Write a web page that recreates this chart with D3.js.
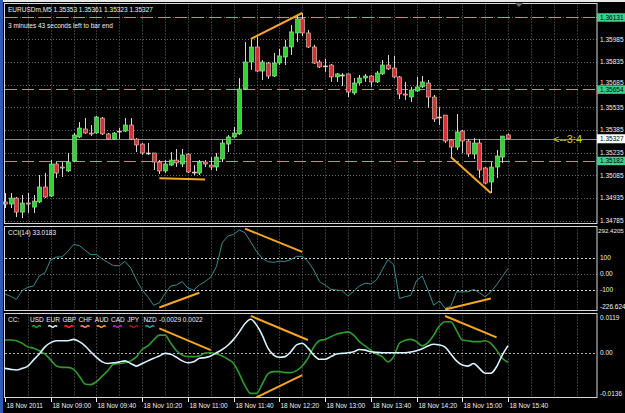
<!DOCTYPE html>
<html>
<head>
<meta charset="utf-8">
<script src="https://cdn.jsdelivr.net/npm/d3@7"></script>
<style>
  body { margin: 0; background: #000; }
  svg { display: block; font-family: "Liberation Sans", Arial, sans-serif; }
</style>
</head>
<body>
<svg id="chart"></svg>
<script>
// EURUSDm M5, 18 Nov 2011, one value per bar (bar 0 = 08:20, bar 88 = 15:40)
const open = [1.34909,1.34895,1.34935,1.34842,1.34902,1.34875,1.34909,1.35008,1.34948,1.35160,
  1.35140,1.35114,1.35180,1.35339,1.35392,1.35365,1.35365,1.35464,1.35359,1.35325,
  1.35378,1.35378,1.35418,1.35325,1.35292,1.35233,1.35233,1.35173,1.35114,1.35153,
  1.35186,1.35160,1.35226,1.35107,1.35100,1.35173,1.35153,1.35140,1.35193,1.35292,
  1.35339,1.35359,1.35656,1.35835,1.35934,1.35775,1.35828,1.35742,1.35828,1.35868,
  1.35934,1.36027,1.36120,1.36027,1.35934,1.35835,1.35809,1.35815,1.35736,1.35749,
  1.35756,1.35630,1.35696,1.35729,1.35742,1.35703,1.35756,1.35815,1.35795,1.35736,
  1.35623,1.35603,1.35643,1.35670,1.35696,1.35603,1.35471,1.35484,1.35319,1.35272,
  1.35378,1.35312,1.35226,1.35299,1.35134,1.35041,1.35140,1.35206,1.35353];
const high = [1.34968,1.34968,1.34942,1.34955,1.34968,1.34955,1.35087,1.35100,1.35186,1.35173,
  1.35173,1.35233,1.35365,1.35438,1.35464,1.35418,1.35478,1.35471,1.35365,1.35372,
  1.35398,1.35464,1.35464,1.35332,1.35299,1.35299,1.35233,1.35186,1.35186,1.35239,
  1.35259,1.35259,1.35233,1.35153,1.35186,1.35186,1.35206,1.35233,1.35319,1.35352,
  1.35405,1.35729,1.35967,1.35987,1.36000,1.35848,1.35835,1.35895,1.35921,1.35981,
  1.36080,1.36146,1.36159,1.36047,1.35948,1.35848,1.35855,1.35822,1.35762,1.35762,
  1.35756,1.35729,1.35749,1.35756,1.35749,1.35775,1.35848,1.35881,1.35875,1.35742,
  1.35703,1.35670,1.35736,1.35742,1.35716,1.35617,1.35537,1.35484,1.35325,1.35491,
  1.35385,1.35325,1.35332,1.35325,1.35140,1.35173,1.35253,1.35345,1.35361];
const low = [1.34869,1.34869,1.34809,1.34803,1.34836,1.34836,1.34902,1.34935,1.34942,1.35067,
  1.35074,1.35107,1.35173,1.35332,1.35359,1.35345,1.35359,1.35352,1.35319,1.35319,
  1.35325,1.35372,1.35319,1.35239,1.35220,1.35220,1.35120,1.35094,1.35100,1.35147,
  1.35140,1.35140,1.35100,1.35087,1.35087,1.35140,1.35120,1.35114,1.35173,1.35239,
  1.35332,1.35352,1.35650,1.35782,1.35769,1.35716,1.35723,1.35736,1.35815,1.35815,
  1.35881,1.35967,1.36007,1.35928,1.35822,1.35795,1.35769,1.35703,1.35703,1.35676,
  1.35603,1.35617,1.35683,1.35703,1.35670,1.35696,1.35749,1.35782,1.35729,1.35590,
  1.35584,1.35570,1.35636,1.35663,1.35531,1.35438,1.35418,1.35299,1.35206,1.35253,
  1.35233,1.35206,1.35193,1.35067,1.35027,1.34968,1.35067,1.35167,1.35323];
const close = [1.34895,1.34935,1.34842,1.34902,1.34895,1.34915,1.35008,1.34942,1.35160,1.35100,
  1.35134,1.35173,1.35352,1.35398,1.35365,1.35359,1.35471,1.35359,1.35325,1.35365,
  1.35378,1.35418,1.35325,1.35286,1.35233,1.35233,1.35173,1.35114,1.35160,1.35186,
  1.35167,1.35220,1.35107,1.35107,1.35173,1.35160,1.35140,1.35206,1.35299,1.35339,
  1.35365,1.35656,1.35835,1.35934,1.35775,1.35835,1.35742,1.35828,1.35875,1.35934,
  1.36034,1.36120,1.36027,1.35934,1.35828,1.35802,1.35809,1.35736,1.35756,1.35749,
  1.35636,1.35696,1.35729,1.35742,1.35703,1.35762,1.35815,1.35789,1.35736,1.35623,
  1.35617,1.35650,1.35670,1.35703,1.35603,1.35458,1.35471,1.35312,1.35272,1.35372,
  1.35312,1.35226,1.35299,1.35120,1.35034,1.35140,1.35213,1.35345,1.35327];

const cci = [-125,-139,-158,-104,-83,-75,-13,6,88,104,
  104,139,181,175,146,119,119,92,71,50,
  50,77,36,-38,-100,-142,-194,-179,-121,-75,
  -69,-48,-89,-100,-69,-48,-21,46,192,233,
  244,271,254,196,139,96,75,71,77,77,
  88,108,108,77,25,-48,-69,-96,-100,-104,
  -138,-108,-75,-58,-63,-38,25,88,56,-152,
  -142,-133,-42,-13,-100,-194,-167,-214,-200,-111,
  -111,-111,-96,-117,-142,-111,-69,-17,33.0183];

const usd = [0.0039,0.0039,0.0037,0.0029,0.0018,0.0014,0.0006,-0.0004,-0.0022,-0.0041,
  -0.0045,-0.0045,-0.0051,-0.0072,-0.0096,-0.0098,-0.0089,-0.0072,-0.0055,-0.0035,
  -0.0033,-0.0031,-0.0025,-0.0012,0.0010,0.0021,0.0039,0.0054,0.0054,0.0029,
  0.0006,-0.0007,-0.0012,-0.0012,-0.0010,-0.0001,0.0000,-0.0004,-0.0010,-0.0020,
  -0.0033,-0.0065,-0.0102,-0.0125,-0.0125,-0.0096,-0.0065,-0.0058,-0.0058,-0.0061,
  -0.0061,-0.0055,-0.0041,-0.0017,0.0017,0.0037,0.0041,0.0049,0.0057,0.0061,
  0.0064,0.0054,0.0034,0.0021,0.0008,-0.0004,-0.0012,-0.0028,-0.0012,0.0029,
  0.0038,0.0041,0.0034,0.0021,0.0031,0.0054,0.0082,0.0095,0.0095,0.0068,
  0.0039,0.0037,0.0034,0.0034,0.0037,0.0029,0.0008,-0.0017,-0.0029];
const eur = [-0.0048,-0.0051,-0.0053,-0.0048,-0.0041,-0.0022,-0.0004,0.0018,0.0031,0.0037,
  0.0037,0.0037,0.0041,0.0034,0.0021,0.0003,-0.0014,-0.0028,-0.0033,-0.0031,
  -0.0028,-0.0025,-0.0033,-0.0041,-0.0033,-0.0025,-0.0017,-0.0010,-0.0002,-0.0005,
  -0.0014,-0.0025,-0.0031,-0.0028,-0.0017,-0.0015,-0.0010,0.0000,0.0010,0.0023,
  0.0041,0.0064,0.0090,0.0103,0.0085,0.0054,0.0014,-0.0007,-0.0014,-0.0012,
  0.0003,0.0024,0.0029,0.0014,-0.0007,-0.0020,-0.0020,-0.0012,-0.0004,-0.0002,
  0.0000,0.0003,0.0010,0.0008,0.0003,0.0001,0.0000,0.0000,0.0000,0.0000,
  0.0000,0.0002,0.0006,0.0012,0.0021,0.0026,0.0024,0.0017,-0.0004,-0.0025,
  -0.0038,-0.0041,-0.0033,-0.0048,-0.0063,-0.0063,-0.0043,-0.0007,0.0022];

// axis labels
const priceTicks = [1.36135,1.35985,1.35835,1.35685,1.35535,1.35385,1.35235,1.35085,1.34935,1.34785];
const priceLabels = ["","1.35985","1.35835","1.35685","1.35535","1.35385","1.35235","1.35085","1.34935","1.34785"];
const levelPrices = [1.36131, 1.35654, 1.35182];
const timeBars = [0,8,16,24,32,40,48,56,64,72,80,88];
const timeLabels = ["18 Nov 2011","18 Nov 09:00","18 Nov 09:40","18 Nov 10:20","18 Nov 11:00","18 Nov 11:40",
  "18 Nov 12:20","18 Nov 13:00","18 Nov 13:40","18 Nov 14:20","18 Nov 15:00","18 Nov 15:40"];
const cciVals = [292.4205, 100, 0, -100, -226.624];
const cciLabels = ["292.4205","100","0.00","-100","-226.624"];
const ccVals = [0.0119, 0, -0.0136];
const ccLabels = ["0.0119","0.00","-0.0136"];
const currencies = ["USD","EUR","GBP","CHF","AUD","CAD","JPY","NZD"];
const currencyColors = ["#2f9a2f","#d8f4ff","#ff3030","#ff8c69","#ffa030","#b030b0","#a01818","#30a0a0"];

// hand drawn trend lines: [bar, value] pairs
const priceTrends = [[[43,1.35987],[52,1.36159]], [[27,1.35065],[35,1.35058]], [[78,1.35206],[85,1.34968]]];
const cciTrends = [[[27,-208],[34,-117]], [[42,279],[52,136]], [[77,-221],[85,-152]]];
const ccTrends = [[[27,0.0075],[36,0.0008]], [[43,0.0113],[53,0.0039]], [[44,-0.0137],[52,-0.0069]], [[77,0.0113],[86,0.0047]]];

const width = 625, height = 413;
const svg = d3.select("#chart").attr("width", width).attr("height", height);

svg.append("rect").attr("width", width).attr("height", height).attr("fill", "#000");

const left = 5, right = 597;
const x = d3.scaleLinear().domain([0, 88]).range([5, 508]);
const yPrice = d3.scaleLinear().domain([1.34785, 1.35985]).range([220.7, 39.3]);
const yCci = d3.scaleLinear().domain([-226.624, 292.4205]).range([310.5, 226.5]);
const yCc = d3.scaleLinear().domain([-0.0136, 0.0119]).range([397, 314]);

const panels = [
  { top: 3.5, bottom: 223.5 },
  { top: 226.5, bottom: 310.5 },
  { top: 313.5, bottom: 397.5 }
];

const gridColor = "#6a6a6a";

// vertical grid in every panel
const gridBars = d3.range(4, 104, 4);
panels.forEach(p => {
  svg.append("g").selectAll("line").data(gridBars).join("line")
    .attr("x1", d => Math.round(x(d)) + 0.5).attr("x2", d => Math.round(x(d)) + 0.5)
    .attr("y1", p.top).attr("y2", p.bottom)
    .attr("stroke", gridColor).attr("stroke-dasharray", "1,2");
});

// horizontal price grid
svg.append("g").selectAll("line").data(priceTicks).join("line")
  .attr("x1", left).attr("x2", right)
  .attr("y1", d => Math.round(yPrice(d)) + 0.5).attr("y2", d => Math.round(yPrice(d)) + 0.5)
  .attr("stroke", gridColor).attr("stroke-dasharray", "1,2");

// cci zero grid + levels
svg.append("line").attr("x1", left).attr("x2", right)
  .attr("y1", Math.round(yCci(0)) + 0.5).attr("y2", Math.round(yCci(0)) + 0.5)
  .attr("stroke", gridColor).attr("stroke-dasharray", "1,2");
svg.append("g").selectAll("line").data([100, -100]).join("line")
  .attr("x1", left).attr("x2", right)
  .attr("y1", d => Math.round(yCci(d)) + 0.5).attr("y2", d => Math.round(yCci(d)) + 0.5)
  .attr("stroke", "#d0d0d0").attr("stroke-dasharray", "2,2");
// cc zero level
svg.append("line").attr("x1", left).attr("x2", right)
  .attr("y1", Math.round(yCc(0)) + 0.5).attr("y2", Math.round(yCc(0)) + 0.5)
  .attr("stroke", "#b0b0b0").attr("stroke-dasharray", "2,2");

// level lines (dashed mint)
const levelColor = "#3fcf8c";
svg.append("g").selectAll("line").data(levelPrices).join("line")
  .attr("x1", left).attr("x2", right)
  .attr("y1", d => Math.round(yPrice(d)) + 0.5).attr("y2", d => Math.round(yPrice(d)) + 0.5)
  .attr("stroke", levelColor).attr("stroke-dasharray", "12,5");

// bid line
const last = close.length - 1;
svg.append("line").attr("x1", left).attr("x2", right)
  .attr("y1", Math.round(yPrice(close[last])) + 0.5).attr("y2", Math.round(yPrice(close[last])) + 0.5)
  .attr("stroke", "#8a8a8a");

// candles
const bars = d3.range(open.length);
const cg = svg.append("g");
cg.selectAll("line.wick").data(bars).join("line")
  .attr("class", "wick")
  .attr("x1", i => Math.round(x(i)) + 0.5).attr("x2", i => Math.round(x(i)) + 0.5)
  .attr("y1", i => yPrice(high[i])).attr("y2", i => yPrice(low[i]))
  .attr("stroke", "#d8d8d8");
cg.selectAll("rect").data(bars).join("rect")
  .attr("x", i => Math.round(x(i)) - 1.5)
  .attr("width", 4)
  .attr("y", i => Math.min(yPrice(open[i]), yPrice(close[i])))
  .attr("height", i => Math.max(1, Math.abs(yPrice(open[i]) - yPrice(close[i]))))
  .attr("fill", i => close[i] > open[i] ? "#32d232" : (close[i] < open[i] ? "#d23232" : "#e0e0e0"))
  .attr("stroke", i => close[i] > open[i] ? "#9cf09c" : "#f0c8c8")
  .attr("stroke-width", 0.6);

// cci line
svg.append("path").datum(cci)
  .attr("d", d3.line().x((d, i) => x(i)).y(d => yCci(d)))
  .attr("fill", "none").attr("stroke", "#3a8c8c").attr("stroke-width", 1);

// currency lines
svg.append("path").datum(usd)
  .attr("d", d3.line().x((d, i) => x(i)).y(d => yCc(d)).curve(d3.curveMonotoneX))
  .attr("fill", "none").attr("stroke", currencyColors[0]).attr("stroke-width", 1.6);
svg.append("path").datum(eur)
  .attr("d", d3.line().x((d, i) => x(i)).y(d => yCc(d)).curve(d3.curveMonotoneX))
  .attr("fill", "none").attr("stroke", currencyColors[1]).attr("stroke-width", 1.6);

// orange trend lines
const trendColor = "#f5a623";
function drawTrends(list, yScale) {
  svg.append("g").selectAll("line").data(list).join("line")
    .attr("x1", d => x(d[0][0])).attr("y1", d => yScale(d[0][1]))
    .attr("x2", d => x(d[1][0])).attr("y2", d => yScale(d[1][1]))
    .attr("stroke", trendColor).attr("stroke-width", 2);
}
drawTrends(priceTrends, yPrice);
drawTrends(cciTrends, yCci);
drawTrends(ccTrends, yCc);

// panel borders
panels.forEach(p => {
  svg.append("rect").attr("x", 4.5).attr("y", p.top).attr("width", right - 4.5).attr("height", p.bottom - p.top)
    .attr("fill", "none").attr("stroke", "#d8d8d8");
});

// window edges
svg.append("rect").attr("x", 0).attr("y", 0).attr("width", width).attr("height", 2).attr("fill", "#e8e8e8");
svg.append("rect").attr("x", 0).attr("y", 0).attr("width", 3).attr("height", height).attr("fill", "#2a5fb0");

const fs = 6.5;
const textColor = "#f0f0f0";

// price axis labels (the one just above the 1.35654 box sits a little higher)
svg.append("g").selectAll("text").data(priceTicks.slice(1)).join("text")
  .attr("x", 600).attr("y", d => yPrice(d) + (d === 1.35685 ? 0.5 : 2.3))
  .attr("font-size", fs).attr("fill", textColor)
  .text((d, i) => priceLabels[i + 1]);

// level price boxes
const boxes = svg.append("g").selectAll("g").data(levelPrices).join("g")
  .attr("transform", d => `translate(597,${yPrice(d)})`);
boxes.append("rect").attr("x", 0).attr("y", -4).attr("width", 28).attr("height", 8.5).attr("fill", levelColor);
boxes.append("text").attr("x", 3).attr("y", 2.3).attr("font-size", fs).attr("fill", "#000")
  .text(d => d.toFixed(5));

// bid price box
const bid = svg.append("g").attr("transform", `translate(597,${yPrice(close[last])})`);
bid.append("rect").attr("x", 0).attr("y", -4.5).attr("width", 28).attr("height", 9).attr("fill", "#fff");
bid.append("text").attr("x", 3).attr("y", 2.3).attr("font-size", fs).attr("fill", "#000")
  .text(close[last].toFixed(5));

// countdown marker
svg.append("text").attr("x", 553).attr("y", yPrice(close[last]) + 4)
  .attr("font-size", 11).attr("fill", "#c8c832").text("<--3:4");

// chart shift marker
svg.append("path").attr("d", "M515,3 L523,3 L519,7 Z").attr("fill", "#6a6a6a");

// cci axis labels
svg.append("g").selectAll("text").data(cciVals).join("text")
  .attr("x", (d, i) => i === 0 ? 598 : 600)
  .attr("y", (d, i) => i === 0 ? yCci(d) + 6 : (i === 4 ? yCci(d) - 2 : yCci(d) + 2.3))
  .attr("font-size", (d, i) => i === 0 ? 6.2 : fs).attr("fill", textColor)
  .text((d, i) => cciLabels[i]);

// cc axis labels
svg.append("g").selectAll("text").data(ccVals).join("text")
  .attr("x", 600).attr("y", (d, i) => i === 0 ? yCc(d) + 6 : (i === 2 ? yCc(d) - 1 : yCc(d) + 2.3))
  .attr("font-size", fs).attr("fill", textColor)
  .text((d, i) => ccLabels[i]);

// time axis
const tg = svg.append("g").selectAll("g").data(timeBars).join("g")
  .attr("transform", d => `translate(${Math.round(x(d)) + 0.5},0)`);
tg.append("line").attr("y1", 398).attr("y2", 402).attr("stroke", textColor);
tg.append("text").attr("x", 1).attr("y", 408).attr("font-size", fs).attr("fill", textColor)
  .text((d, i) => timeLabels[i]);

// titles
svg.append("text").attr("x", 8).attr("y", 12).attr("font-size", fs).attr("fill", textColor)
  .text("EURUSDm,M5  1.35353 1.35361 1.35323 1.35327");
svg.append("text").attr("x", 8).attr("y", 28).attr("font-size", fs).attr("fill", textColor)
  .text("3 minutes 43 seconds left to bar end");
svg.append("text").attr("x", 8).attr("y", 235).attr("font-size", fs).attr("fill", textColor)
  .text("CCI(14) " + cci[last].toFixed(4));

// currency legend
svg.append("text").attr("x", 8).attr("y", 322).attr("font-size", fs).attr("fill", textColor).text("CC:");
const lg = svg.append("g").selectAll("g").data(currencies).join("g")
  .attr("transform", (d, i) => `translate(${30 + i * 16.2},0)`);
lg.append("text").attr("x", 0).attr("y", 322).attr("font-size", fs).attr("fill", textColor).text(d => d);
lg.append("path").attr("d", "M2,326.5 q1.5,-1.5 3,0 t3,0 t3,0")
  .attr("fill", "none").attr("stroke", (d, i) => currencyColors[i]).attr("stroke-width", 1.5);
svg.append("text").attr("x", 159).attr("y", 322).attr("font-size", fs).attr("fill", textColor)
  .text(usd[last].toFixed(4) + " " + eur[last].toFixed(4));
</script>
</body>
</html>
